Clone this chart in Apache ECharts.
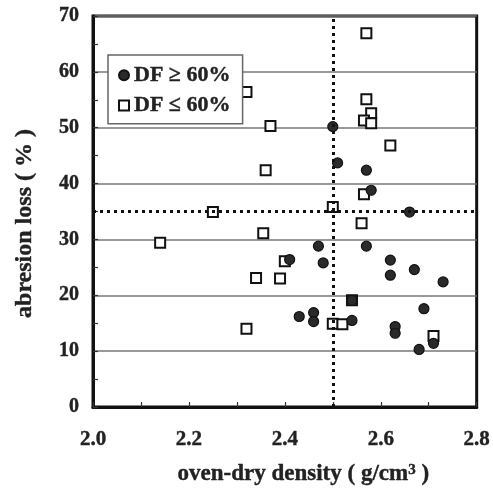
<!DOCTYPE html>
<html lang="en">
<head>
<meta charset="UTF-8">
<title>abresion loss vs oven-dry density</title>
<script src="https://cdn.jsdelivr.net/npm/echarts@6/dist/echarts.min.js"></script>
</head>
<body style="margin:0;background:#fff">
<div id="container" style="width:493px;height:492px;"></div>
<script>
// DF >= 60% (filled circles)
var highX = [2.50, 2.51, 2.57, 2.58, 2.66, 2.47, 2.57, 2.41, 2.48, 2.62, 2.67, 2.62, 2.73, 2.54, 2.69, 2.46, 2.43, 2.46, 2.54, 2.63, 2.63, 2.71, 2.68];
var highY = [50.2, 43.7, 42.4, 38.8, 34.9, 28.8, 28.8, 26.4, 25.8, 26.3, 24.6, 23.6, 22.4, 19.1, 17.6, 16.9, 16.2, 15.3, 15.5, 14.4, 13.2, 11.4, 10.3];
// DF <= 60% (open squares)
var lowX = [2.57, 2.32, 2.57, 2.58, 2.565, 2.58, 2.37, 2.62, 2.36, 2.565, 2.50, 2.25, 2.56, 2.355, 2.14, 2.40, 2.34, 2.39, 2.54, 2.50, 2.52, 2.32, 2.71];
var lowY = [66.9, 56.4, 55.1, 52.6, 51.3, 50.8, 50.3, 46.8, 42.4, 38.1, 35.8, 34.9, 32.9, 31.1, 29.4, 26.1, 23.1, 23.0, 19.1, 14.9, 14.8, 14.0, 12.7];
var refX = 2.5;
var refY = 35;
var names = ['DF \u2265 60%', 'DF \u2264 60%'];

function pairs(xs, ys) {
    return xs.map(function (x, i) { return [x, ys[i]]; });
}

var font = '"Liberation Serif", "DejaVu Serif", serif';
var ink = '#222';
var bold = { fontFamily: font, fontWeight: 'bold', color: ink, textBorderColor: ink, textBorderWidth: 0.4 };
function txt(size, extra) {
    return Object.assign({}, bold, { fontSize: size }, extra || {});
}

var myChart = echarts.init(document.getElementById('container'), null, { renderer: 'canvas' });

var option = {
    animation: false,
    textStyle: { fontFamily: font },
    grid: {
        left: 93, right: 10, top: 16, bottom: 85,
        show: true, borderColor: '#111', borderWidth: 3
    },
    legend: {
        orient: 'vertical',
        left: 108, top: 55,
        backgroundColor: '#fff',
        borderColor: '#666', borderWidth: 1.5,
        padding: [9, 12, 7, 10],
        itemGap: 8,
        itemWidth: 10, itemHeight: 10,
        textStyle: txt(22),
        data: [
            { name: names[0], icon: 'circle' },
            { name: names[1], icon: 'rect' }
        ]
    },
    xAxis: {
        type: 'value',
        min: 2.0, max: 2.8, interval: 0.1,
        name: 'oven-dry density ( g/cm{sup|3} )',
        nameLocation: 'middle', nameGap: 56,
        nameTextStyle: txt(23, {
            padding: [0, 0, 0, 37],
            rich: { sup: txt(15, { verticalAlign: 'top', padding: [0, 0, 6, 0] }) }
        }),
        axisLine: { show: true, lineStyle: { color: '#111', width: 3 } },
        axisTick: { inside: true, length: 5, lineStyle: { color: '#333', width: 1.2 } },
        axisLabel: Object.assign(txt(21), {
            margin: 22,
            formatter: function (v) { return Math.round(v * 10) % 2 === 0 ? v.toFixed(1) : ''; }
        }),
        splitLine: { show: false }
    },
    yAxis: {
        type: 'value',
        min: 0, max: 70, interval: 10,
        name: 'abresion loss ( % )',
        nameLocation: 'middle', nameGap: 56,
        nameTextStyle: txt(24, { padding: [0, 24, 0, 0] }),
        axisLine: { show: true, lineStyle: { color: '#111', width: 3 } },
        axisTick: { inside: true, length: 5, lineStyle: { color: '#333', width: 1.2 } },
        minorTick: { show: true, splitNumber: 2, length: 5, lineStyle: { color: '#333', width: 1.2 } },
        axisLabel: Object.assign(txt(20), { margin: 14 }),
        splitLine: { show: true, lineStyle: { color: '#777', width: 1.5 } }
    },
    series: [
        {
            name: names[1],
            type: 'scatter',
            z: 2,
            symbol: 'rect',
            symbolSize: 10,
            itemStyle: { color: '#fff', borderColor: '#111', borderWidth: 2, opacity: 1 },
            data: pairs(lowX, lowY),
            markLine: {
                silent: true,
                symbol: 'none',
                label: { show: false },
                lineStyle: { color: '#111', width: 3, type: [3, 4] },
                data: [{ xAxis: refX }, { yAxis: refY }]
            }
        },
        {
            name: names[0],
            type: 'scatter',
            z: 3,
            symbol: 'circle',
            symbolSize: 10,
            itemStyle: { color: '#2a2a2a', borderColor: '#111', borderWidth: 1.2, opacity: 1 },
            data: pairs(highX, highY)
        }
    ]
};

myChart.setOption(option);
</script>
</body>
</html>
